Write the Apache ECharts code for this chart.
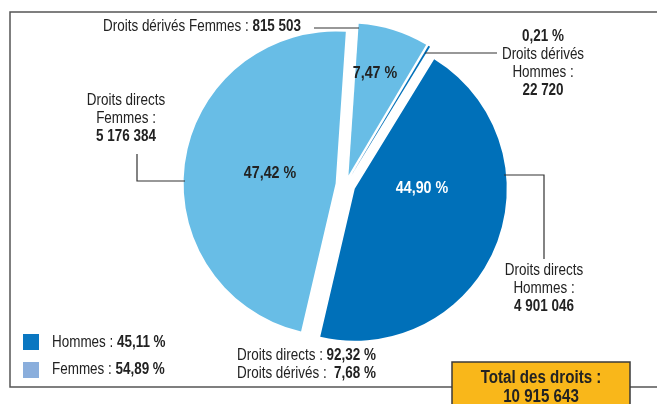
<!DOCTYPE html>
<html><head><meta charset="utf-8">
<script src="https://cdn.jsdelivr.net/npm/echarts@6/dist/echarts.min.js"></script>
<style>html,body{margin:0;padding:0;background:#fff}#c{width:657px;height:404px}</style>
</head><body><div id="c"></div>
<script>
// ---- data ----
var categories = ['Droits directs Hommes', 'Droits directs Femmes', 'Droits dérivés Femmes', 'Droits dérivés Hommes'];
var values = [4901046, 5176384, 815503, 22720];
var valueLabels = ['4 901 046', '5 176 384', '815 503', '22 720'];
var percentLabels = ['44,90 %', '47,42 %', '7,47 %', '0,21 %'];
var legendNames = ['Hommes', 'Femmes'];
var legendValues = ['45,11 %', '54,89 %'];
var summaryNames = ['Droits directs', 'Droits dérivés'];
var summaryValues = ['92,32 %', '7,68 %'];
var totalLabel = 'Total des droits :';
var totalValue = '10 915 643';

var FONT = '"Liberation Sans", Arial, sans-serif';
var TXT = '#222';
var SX = 0.84;
var FS = 16;
var sliceColors = ['#0070b9', '#68bde6', '#68bde6', '#0070b9'];
var legendColors = ['#0a77c1', '#8aaedc'];
var richB = {b: {fontWeight: 'bold', fontFamily: FONT, fontSize: FS, fill: TXT, lineHeight: 18}};

function T(text, x, y, align, extra) {
  var st = {text: text, font: FS + 'px ' + FONT, fill: TXT, align: align || 'center', verticalAlign: 'middle', lineHeight: 18, rich: richB};
  if (extra) for (var k in extra) st[k] = extra[k];
  return {type: 'text', silent: true, z: 20, x: x, y: y, scaleX: SX, style: st};
}
function L(points) {
  return {type: 'polyline', silent: true, z: 19, shape: {points: points}, style: {stroke: '#333', lineWidth: 1.2, fill: null}};
}
function P(text, x, y, color) {
  return {type: 'text', silent: true, z: 20, x: x, y: y, scaleX: SX,
    style: {text: text, font: 'bold 17px ' + FONT, fill: color, align: 'center', verticalAlign: 'middle'}};
}

var mainData = categories.map(function (c, i) {
  return {name: c, value: values[i], selected: true, itemStyle: {color: sliceColors[i]}};
});

var chart = echarts.init(document.getElementById('c'), null, {renderer: 'canvas'});
chart.setOption({
  animation: false,
  series: [{
    type: 'pie', center: [345.5, 185], radius: 152, startAngle: 58.5, clockwise: true,
    selectedMode: 'multiple', selectedOffset: 10, avoidLabelOverlap: false,
    emphasis: {disabled: true}, silent: true,
    label: {show: false}, labelLine: {show: false},
    data: mainData
  }],
  graphic: [
    {type: 'rect', z: -10, silent: true, shape: {x: 10, y: 12, width: 700, height: 375},
     style: {fill: 'none', stroke: '#555', lineWidth: 1.5}},
    // slice labels
    T('Droits directs\nFemmes :\n{b|' + valueLabels[1] + '}', 126, 119),
    L([[185,181],[137,181],[137,154]]),
    T('Droits directs\nHommes :\n{b|' + valueLabels[0] + '}', 544, 289),
    L([[504,175],[544,175],[544,259]]),
    T('Droits dérivés Femmes : {b|' + valueLabels[2] + '}', 301, 27, 'right'),
    L([[359,28],[314,28]]),
    T('{b|' + percentLabels[3] + '}\nDroits dérivés\nHommes :\n{b|' + valueLabels[3] + '}', 543, 64),
    L([[425,53],[497,53]]),
    // inner percentages
    P(percentLabels[1], 270, 173, TXT),
    P(percentLabels[0], 422, 188, '#fff'),
    P(percentLabels[2], 375, 73, TXT),
    // legend
    {type: 'rect', silent: true, shape: {x: 23, y: 334, width: 16, height: 16}, style: {fill: legendColors[0]}},
    {type: 'rect', silent: true, shape: {x: 23, y: 362, width: 16, height: 16}, style: {fill: legendColors[1]}},
    T(legendNames[0] + ' : {b|' + legendValues[0] + '}', 52, 343, 'left'),
    T(legendNames[1] + ' : {b|' + legendValues[1] + '}', 52, 370, 'left'),
    T(summaryNames[0] + ' : {b|' + summaryValues[0] + '}', 237, 356, 'left'),
    T(summaryNames[1] + ' :  {b|' + summaryValues[1] + '}', 237, 374, 'left'),
    // total box
    {type: 'rect', silent: true, z: 30, shape: {x: 452, y: 362, width: 178, height: 60},
     style: {fill: '#f9b71a', stroke: '#3a3a3a', lineWidth: 1.5}},
    {type: 'text', silent: true, z: 31, x: 541, y: 378, scaleX: SX, style: {text: totalLabel, font: 'bold 18px ' + FONT, fill: TXT, align: 'center', verticalAlign: 'middle'}},
    {type: 'text', silent: true, z: 31, x: 541, y: 397, scaleX: SX, style: {text: totalValue, font: 'bold 18px ' + FONT, fill: TXT, align: 'center', verticalAlign: 'middle'}}
  ]
});
</script></body></html>
